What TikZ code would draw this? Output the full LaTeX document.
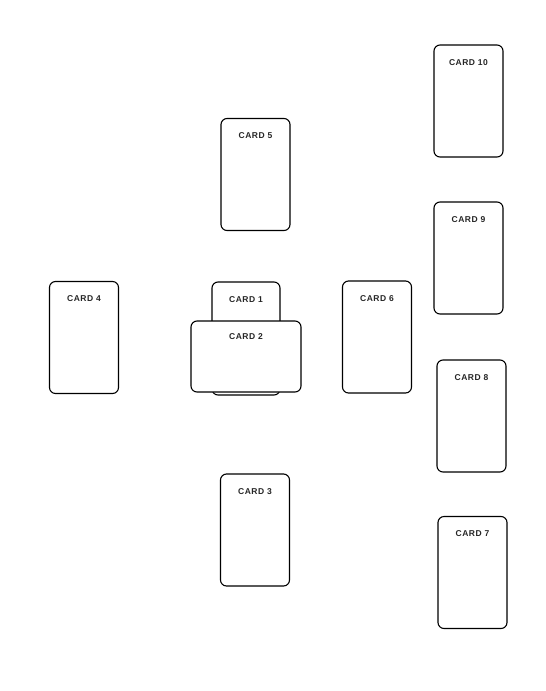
\documentclass[tikz,border=0pt]{standalone}
\usepackage{fontspec}
\setmainfont{Liberation Sans}
\usepackage{tikz}
\usetikzlibrary{positioning}
\tikzset{
  card/.style={draw, line width=1.1pt, rounded corners=6pt, fill=white,
    minimum width=69pt, minimum height=112pt, inner sep=0pt},
  wide/.style={card, minimum width=110pt, minimum height=71pt},
  cardlbl/.style={font=\fontsize{8.5}{10}\selectfont\bfseries\addfontfeature{LetterSpace=6},
    inner sep=0pt, text=black!85}
}
\begin{document}
\begin{tikzpicture}[x=1pt,y=-1pt]
  \useasboundingbox (0,0) rectangle (546,691);
  % outer cards
  \node[card] (c10) at (468.5,101) {};
  \node[card] (c9) at (468.5,258) {};
  \node[card] (c8) at (471.5,416) {};
  \node[card] (c7) at (472.5,572.5) {};
  % cross
  \node[card] (c5) at (255.5,174.5) {};
  \node[card] (c4) at (84,337.5) {};
  \node[card, minimum width=68pt, minimum height=113pt] (c1) at (246,338.5) {};
  \node[wide] (c2) at (246,356.5) {};
  \node[card] (c6) at (377,337) {};
  \node[card] (c3) at (255,530) {};
  % labels
  \foreach \c/\t in {c10/CARD 10, c9/CARD 9, c8/CARD 8, c7/CARD 7,
                     c5/CARD 5, c4/CARD 4, c1/CARD 1, c6/CARD 6, c3/CARD 3}
    \node[cardlbl] (l\c) at ([yshift=-18pt]\c.north) {\t};
  \node[cardlbl] (lc2) at ([yshift=-16pt]c2.north) {CARD 2};
\end{tikzpicture}
\end{document}
